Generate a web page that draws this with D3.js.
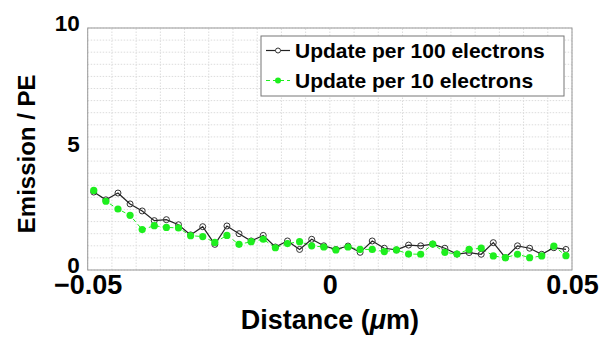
<!DOCTYPE html>
<html lang="en">
<head>
<meta charset="UTF-8">
<title>Emission vs Distance</title>
<script src="https://d3js.org/d3.v7.min.js"></script>
<style>
  body { margin: 0; background: #fff; }
  svg { display: block; font-family: "Liberation Sans", Arial, sans-serif; font-weight: bold; }
</style>
</head>
<body>
<div id="chart"></div>
<script>
// x positions (micrometres), 40 points
const distance = d3.range(40).map(k => -0.04875 + k * 0.0025);
const per100 = [3.22, 2.90, 3.18, 2.73, 2.44, 2.04, 2.08, 1.87, 1.45, 1.79,
                1.06, 1.82, 1.50, 1.20, 1.43, 0.95, 1.20, 0.85, 1.27, 1.00,
                0.85, 0.99, 0.73, 1.20, 0.90, 0.83, 1.03, 1.00, 1.07, 0.90,
                0.66, 0.72, 0.65, 1.13, 0.51, 1.00, 0.90, 0.65, 0.92, 0.85];
const per10 = [3.29, 2.84, 2.52, 2.26, 1.67, 1.83, 1.76, 1.74, 1.42, 1.38,
               1.14, 1.43, 1.06, 1.17, 1.27, 0.92, 1.09, 1.17, 1.00, 0.95,
               0.83, 0.95, 0.85, 0.85, 0.76, 0.83, 0.66, 0.65, 1.07, 0.73,
               0.66, 0.85, 0.90, 0.58, 0.51, 0.65, 0.51, 0.58, 0.99, 0.59];
const xTicks = [-0.05, 0, 0.05];
const yTicks = [0, 5, 10];
const seriesNames = ["Update per 100 electrons", "Update per 10 electrons"];

const W = 601, H = 338;
const m = {left: 87.7, right: 29, top: 28, bottom: 68};
const green = "#1eef1e";

const svg = d3.select("#chart").append("svg")
  .attr("width", W).attr("height", H);

const x = d3.scaleLinear().domain([-0.05, 0.05]).range([m.left, W - m.right]);
const y = d3.scaleLinear().domain([0, 10]).range([H - m.bottom, m.top]);

// grid
const grid = svg.append("g");
grid.selectAll(".gx").data(d3.range(-0.05, 0.0501, 0.005)).enter().append("line")
  .attr("x1", d => x(d)).attr("x2", d => x(d))
  .attr("y1", y(0)).attr("y2", y(10))
  .attr("stroke", "#dcdcdc").attr("stroke-dasharray", "1.5,1.5");
grid.selectAll(".gy").data(d3.range(0, 10.01, 0.5)).enter().append("line")
  .attr("x1", x(-0.05)).attr("x2", x(0.05))
  .attr("y1", d => y(d)).attr("y2", d => y(d))
  .attr("stroke", "#dcdcdc").attr("stroke-dasharray", "1.5,1.5");

// frame
svg.append("rect")
  .attr("x", x(-0.05)).attr("y", y(10))
  .attr("width", x(0.05) - x(-0.05)).attr("height", y(0) - y(10))
  .attr("fill", "none").attr("stroke", "#999").attr("stroke-width", 1);

// axes
const xAxis = svg.append("g").attr("transform", `translate(0,${y(0)})`)
  .call(d3.axisBottom(x).tickValues(xTicks).tickSize(0).tickPadding(0)
    .tickFormat(d => d === 0 ? "0" : (d < 0 ? "\u2212" : "") + Math.abs(d).toFixed(2)));
xAxis.select(".domain").remove();
xAxis.selectAll("text").attr("font-size", 27).attr("font-family", "Liberation Sans, Arial, sans-serif")
  .attr("font-weight", "bold").attr("fill", "#000").attr("y", 24).attr("dy", 0);

const yAxis = svg.append("g").attr("transform", `translate(${x(-0.05)},0)`)
  .call(d3.axisLeft(y).tickValues(yTicks).tickSize(0).tickPadding(8));
yAxis.select(".domain").remove();
yAxis.selectAll("text").attr("font-size", 22.5).attr("font-family", "Liberation Sans, Arial, sans-serif")
  .attr("font-weight", "bold").attr("fill", "#000").attr("dy", 2);

// axis titles
const xt = svg.append("text").attr("x", x(0)).attr("y", 329)
  .attr("text-anchor", "middle").attr("font-size", 27);
xt.append("tspan").text("Distance (");
xt.append("tspan").attr("font-style", "italic").text("\u03bc");
xt.append("tspan").text("m)");

svg.append("text")
  .attr("transform", `translate(35,${y(4.8)}) rotate(-90)`)
  .attr("text-anchor", "middle").attr("font-size", 24)
  .text("Emission / PE");

// series
const line = d3.line().x((d, i) => x(distance[i])).y(d => y(d));

svg.append("path").datum(per10).attr("d", line)
  .attr("fill", "none").attr("stroke", green).attr("stroke-width", 1)
  .attr("stroke-dasharray", "4,3");
svg.append("path").datum(per100).attr("d", line)
  .attr("fill", "none").attr("stroke", "#222").attr("stroke-width", 1.2);

svg.selectAll(".p100").data(per100).enter().append("circle")
  .attr("cx", (d, i) => x(distance[i])).attr("cy", d => y(d)).attr("r", 3)
  .attr("fill", "none").attr("stroke", "#333").attr("stroke-width", 1);
svg.selectAll(".p10").data(per10).enter().append("circle")
  .attr("cx", (d, i) => x(distance[i])).attr("cy", d => y(d)).attr("r", 3.6)
  .attr("fill", green).attr("stroke", "none");

// legend
const lg = svg.append("g");
lg.append("rect").attr("x", 261).attr("y", 36).attr("width", 303).attr("height", 60)
  .attr("fill", "#fff").attr("stroke", "#777").attr("stroke-width", 1);
[0, 1].forEach(i => {
  const cy = 50.5 + i * 30;
  if (i === 0) {
    lg.append("line").attr("x1", 266).attr("x2", 290).attr("y1", cy).attr("y2", cy)
      .attr("stroke", "#222").attr("stroke-width", 1.2);
    lg.append("circle").attr("cx", 278).attr("cy", cy).attr("r", 2.5)
      .attr("fill", "#fff").attr("stroke", "#333");
  } else {
    lg.append("line").attr("x1", 266).attr("x2", 290).attr("y1", cy).attr("y2", cy)
      .attr("stroke", green).attr("stroke-dasharray", "4,3");
    lg.append("circle").attr("cx", 278).attr("cy", cy).attr("r", 3)
      .attr("fill", green);
  }
  lg.append("text").attr("x", 295).attr("y", cy).attr("dy", "0.36em")
    .attr("font-size", 21).text(seriesNames[i]);
});
</script>
</body>
</html>
